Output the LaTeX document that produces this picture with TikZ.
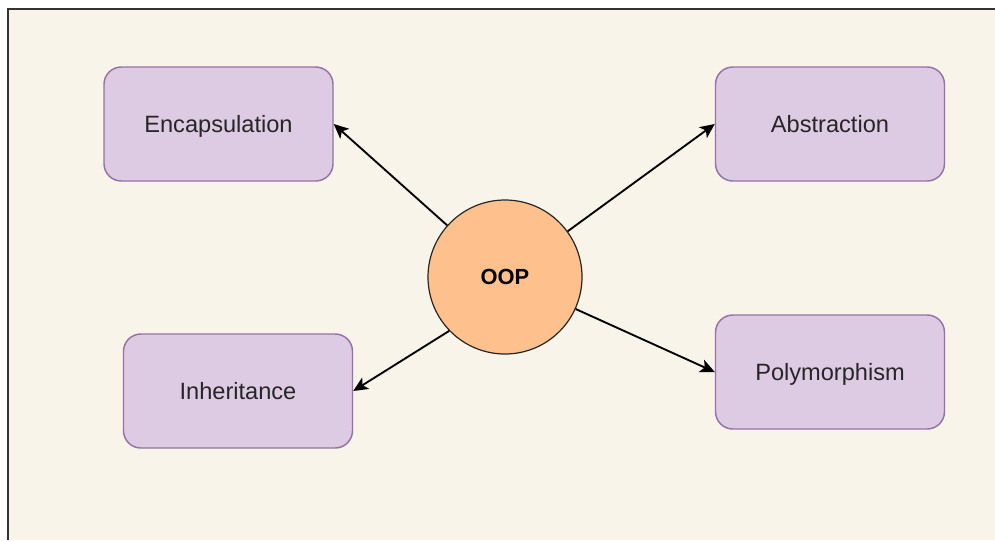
\documentclass[tikz,border=0pt]{standalone}
\usepackage{fontspec}
\setmainfont{Liberation Sans}
\usetikzlibrary{arrows.meta}
\definecolor{bgc}{HTML}{F8F4E9}
\definecolor{boxfill}{HTML}{DDCAE3}
\definecolor{boxline}{HTML}{9673A6}
\definecolor{oopfill}{HTML}{FEC08C}
\definecolor{framec}{HTML}{333333}
\tikzset{
  concept/.style={draw=boxline, fill=boxfill, line width=1.1pt, rounded corners=13pt,
    minimum width=229*0.75pt, minimum height=114*0.75pt, inner sep=0pt,
    text height=12.7pt, text depth=0pt,
    font=\fontsize{17.7pt}{20pt}\selectfont, text=black!85},
  hub/.style={circle, draw=black!85, fill=oopfill, line width=0.9pt,
    minimum size=154*0.75pt, inner sep=0pt, text height=11.7pt, text depth=0pt,
    font=\fontsize{16.4pt}{19pt}\selectfont\bfseries},
  link/.style={-{Stealth[length=11pt,width=10pt,inset=2.8pt]}, line width=1.4pt, black}
}
\begin{document}
\begin{tikzpicture}[x=0.75pt,y=-0.75pt]
\useasboundingbox (0,0) rectangle (995,540);
\fill[white] (0,0) rectangle (995,540);
\fill[bgc] (8,9) rectangle (995,540);
\draw[framec, line width=1.2pt] (8,540) -- (8,9) -- (995,9);
\node[hub] (oop) at (505,277) {OOP};
\node[concept] (enc) at (218.5,124) {Encapsulation};
\node[concept] (abs) at (830,124) {Abstraction};
\node[concept] (inh) at (238,391) {Inheritance};
\node[concept] (poly) at (830,372) {Polymorphism};
\draw[link] (oop) -- (enc.east);
\draw[link] (oop) -- (abs.west);
\draw[link] (oop.224) -- (inh.east);
\draw[link] (oop) -- (poly.west);
\end{tikzpicture}
\end{document}
